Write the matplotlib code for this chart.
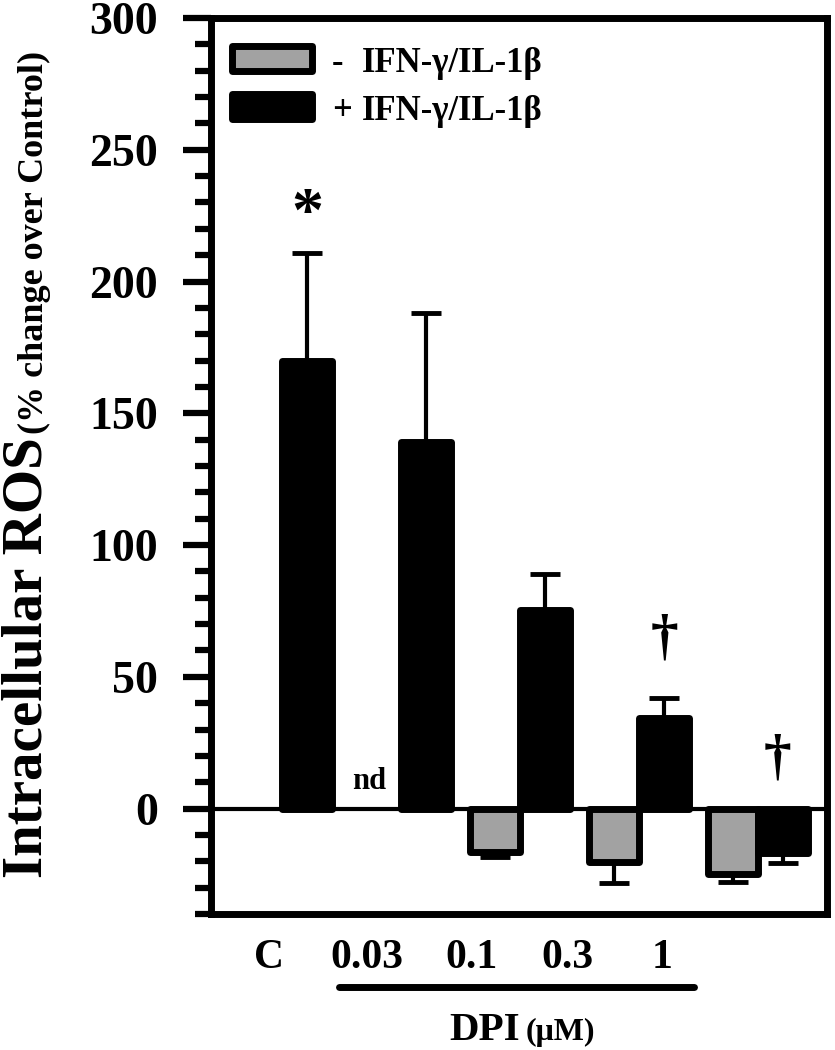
import numpy as np
import matplotlib.pyplot as plt
from matplotlib.patches import Rectangle

plt.rcParams['font.family'] = ['Liberation Serif', 'DejaVu Serif']
plt.rcParams['font.weight'] = 'bold'

# data
groups = ['C', '0.03', '0.1', '0.3', '1']
minus_vals = [np.nan, np.nan, -16.5, -20.3, -24.8]   # - IFN-g/IL-1b (C not shown, 0.03 = nd)
minus_err = [0, 0, 2.0, 8.0, 3.0]
plus_vals = [170, 139, 75.5, 34.5, -17.0]            # + IFN-g/IL-1b
plus_err = [41, 49, 13.5, 7.3, 3.5]
marks = {0: '*', 3: '\u2020', 4: '\u2020'}           # significance marks on + bars

gray = '#a2a2a2'
x = np.arange(len(groups))
off = 0.21
w = 0.42


def one_sided(vals, errs):
    vals = np.asarray(vals, float)
    errs = np.asarray(errs, float)
    lo = np.where(vals < 0, errs, 0)
    hi = np.where(vals >= 0, errs, 0)
    return [lo, hi]


fig = plt.figure(figsize=(8.35, 10.5), dpi=100)
ax = fig.add_axes([211 / 835, 1 - 914 / 1050, 616 / 835, 896 / 1050])

ax.axhline(0, color='black', lw=3, zorder=1)

b1 = ax.bar(x - off, minus_vals, w, color=gray, edgecolor='black', lw=5, zorder=3)
b2 = ax.bar(x + off, plus_vals, w, color='black', edgecolor='black', lw=5, zorder=3)
for p in list(b1) + list(b2):
    p.set_joinstyle('round')

ax.errorbar(x - off, minus_vals, yerr=one_sided(minus_vals, minus_err), fmt='none',
            ecolor='black', elinewidth=3, capsize=10.5, capthick=3.5, zorder=2)
ax.errorbar(x + off, plus_vals, yerr=one_sided(plus_vals, plus_err), fmt='none',
            ecolor='black', elinewidth=3, capsize=10.5, capthick=3.5, zorder=2)

# significance marks and nd
ax.text(x[0] + off, 219, marks[0], ha='center', va='baseline', fontsize=46)
ax.text(x[3] + off, 59, marks[3], ha='center', va='baseline', fontsize=40)
ax.text(x[4] + off - 0.05, 13.5, marks[4], ha='center', va='baseline', fontsize=40)
ax.text(x[1] - off - 0.06, 7.6, 'nd', ha='center', va='baseline', fontsize=22)

ax.set_xlim(-0.597, 4.58)
ax.set_ylim(-40, 300)
ax.set_yticks(np.arange(0, 301, 50))
ax.set_yticks(np.arange(-40, 301, 10), minor=True)
ax.tick_params(axis='y', which='major', direction='out', length=20, width=4.5,
               pad=18, labelsize=33)
ax.tick_params(axis='y', which='minor', direction='out', length=11.5, width=4.5)

# x labels sit a bit left of the bar groups in the original
label_pos = [-0.11, 0.71, 1.59, 2.40, 3.19]
ax.set_xticks(label_pos, groups)
ax.tick_params(axis='x', length=0, pad=18, labelsize=30)

for s in ax.spines.values():
    s.set_linewidth(5)

# DPI bracket line and label
ax.plot([0.475, 3.465], [-0.0814, -0.0814], color='black', lw=5,
        solid_capstyle='round', transform=ax.get_xaxis_transform(), clip_on=False)
ax.text(2.0, -0.1406, 'DPI', ha='right', va='baseline', fontsize=29.5,
        transform=ax.get_xaxis_transform())
ax.text(2.05, -0.1406, '(\u03bcM)', ha='left', va='baseline', fontsize=23,
        transform=ax.get_xaxis_transform())

# legend drawn by hand
for yb, fc in [(0.9414, gray), (0.8878, 'black')]:
    r = Rectangle((0.0333, yb), 0.1299, 0.0279, transform=ax.transAxes,
                  facecolor=fc, edgecolor='black', lw=5, joinstyle='round')
    ax.add_patch(r)
ax.text(0.1964, 0.9397, '-', transform=ax.transAxes, ha='left', va='baseline', fontsize=25)
ax.text(0.2451, 0.9397, 'IFN-\u03b3/IL-1\u03b2', transform=ax.transAxes,
        ha='left', va='baseline', fontsize=25)
ax.text(0.1964, 0.8862, '+', transform=ax.transAxes, ha='left', va='baseline', fontsize=25)
ax.text(0.2451, 0.8862, 'IFN-\u03b3/IL-1\u03b2', transform=ax.transAxes,
        ha='left', va='baseline', fontsize=25)

# y label in two sizes
fig.text(41 / 835, 1 - 878 / 1050, 'Intracellular ROS', rotation=90, rotation_mode='anchor',
         ha='left', va='baseline', fontsize=41)
fig.text(43 / 835, 1 - 434 / 1050, '(% change over Control)', rotation=90,
         rotation_mode='anchor', ha='left', va='baseline', fontsize=26)

fig.savefig('out.png', dpi=100)
